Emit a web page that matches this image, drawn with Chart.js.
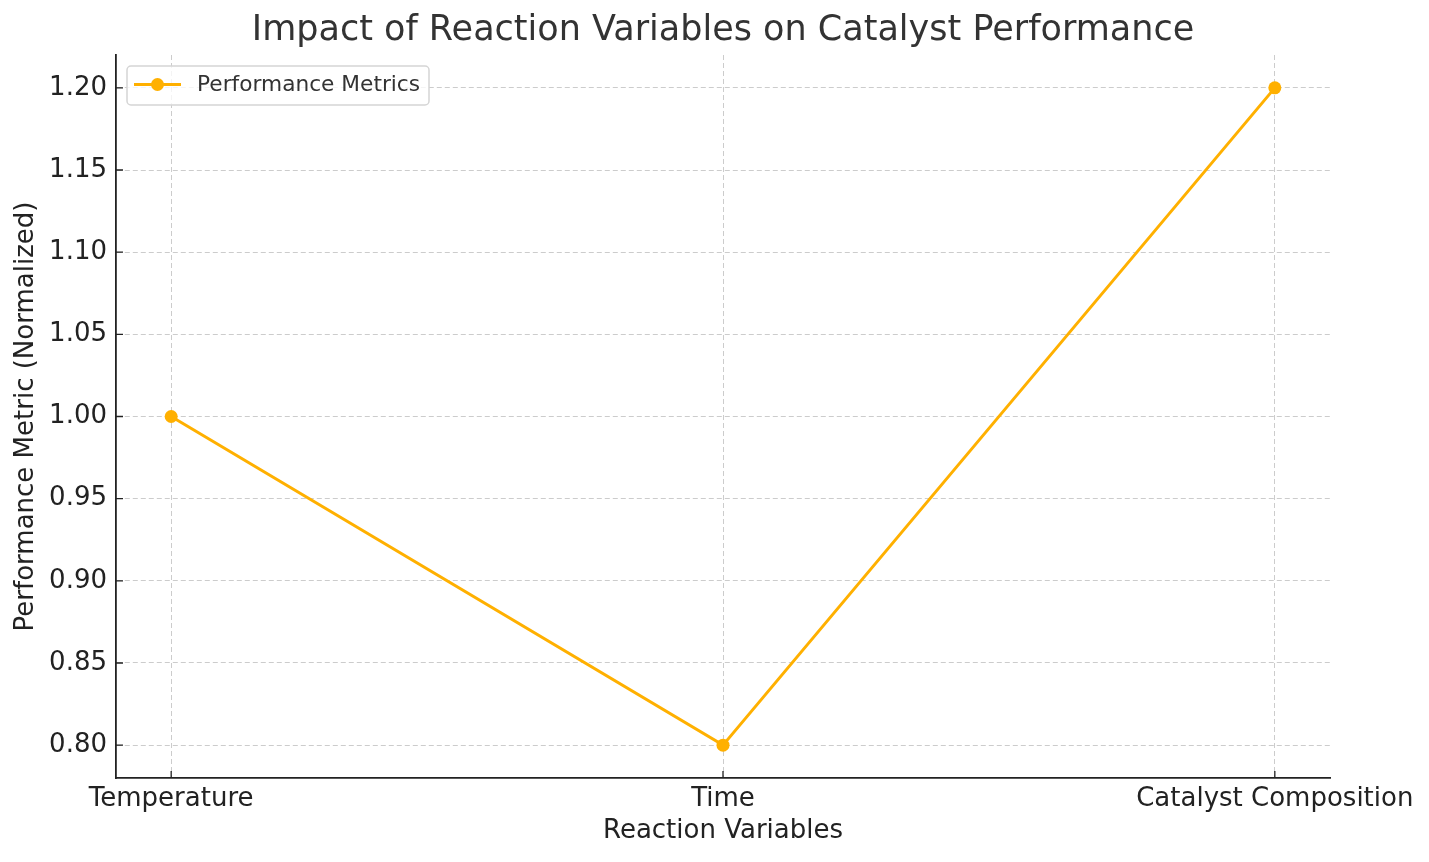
<!DOCTYPE html>
<html lang="en">
<head>
    <meta charset="UTF-8">
    <title>Impact of Reaction Variables on Catalyst Performance</title>
    <script src="https://cdn.jsdelivr.net/npm/chart.js"></script>
    <style>
        html, body { margin: 0; padding: 0; background: #fff; }
        #wrap { width: 1429px; height: 862px; }
    </style>
</head>
<body>
    <div id="wrap"><canvas id="chartCatalyst"></canvas></div>

    <script>
        // Data
        const categories = ['Temperature', 'Time', 'Catalyst Composition'];
        const performanceValues = [1.00, 0.80, 1.20];
        const seriesLabel = 'Performance Metrics';
        const chartTitle = 'Impact of Reaction Variables on Catalyst Performance';
        const lineColor = '#FFB000';
        const fontFamily = '"DejaVu Sans", Verdana, sans-serif';

        // inward tick marks like matplotlib
        const tickMarks = {
            id: 'tickMarks',
            afterDatasetsDraw(chart) {
                const { ctx, chartArea, scales } = chart;
                ctx.save();
                ctx.strokeStyle = '#222';
                ctx.lineWidth = 1.3;
                ctx.beginPath();
                scales.x.ticks.forEach(t => {
                    const px = scales.x.getPixelForValue(t.value);
                    ctx.moveTo(px, chartArea.bottom);
                    ctx.lineTo(px, chartArea.bottom - 7);
                });
                scales.y.ticks.forEach(t => {
                    const py = scales.y.getPixelForValue(t.value);
                    ctx.moveTo(chartArea.left, py);
                    ctx.lineTo(chartArea.left + 7, py);
                });
                ctx.stroke();
                ctx.restore();
            }
        };

        // title centred over the plot, legend box in its top left corner
        const titleAndLegend = {
            id: 'titleAndLegend',
            afterDraw(chart) {
                const { ctx, chartArea } = chart;
                ctx.save();
                ctx.fillStyle = '#333';
                ctx.font = '35px ' + fontFamily;
                ctx.textAlign = 'center';
                ctx.textBaseline = 'middle';
                ctx.fillText(chartTitle, (chartArea.left + chartArea.right) / 2, 31);

                const x = 127, y = 66, w = 302, h = 39;
                ctx.fillStyle = 'rgba(255,255,255,0.8)';
                ctx.strokeStyle = '#d5d5d5';
                ctx.lineWidth = 1.5;
                ctx.beginPath();
                ctx.roundRect(x, y, w, h, 4);
                ctx.fill();
                ctx.stroke();
                ctx.strokeStyle = lineColor;
                ctx.lineWidth = 3;
                ctx.beginPath();
                ctx.moveTo(134, 84.5);
                ctx.lineTo(181, 84.5);
                ctx.stroke();
                ctx.fillStyle = lineColor;
                ctx.beginPath();
                ctx.arc(157.5, 84.5, 6.5, 0, Math.PI * 2);
                ctx.fill();
                ctx.fillStyle = '#333';
                ctx.font = '21.7px ' + fontFamily;
                ctx.textAlign = 'left';
                ctx.fillText(seriesLabel, 197, 85.5);
                ctx.restore();
            }
        };

        const ctx = document.getElementById('chartCatalyst').getContext('2d');
        const chart = new Chart(ctx, {
            type: 'line',
            data: {
                datasets: [{
                    label: seriesLabel,
                    data: performanceValues.map((v, i) => ({ x: i, y: v })),
                    borderColor: lineColor,
                    backgroundColor: lineColor,
                    borderWidth: 3,
                    pointRadius: 6.5,
                    pointHoverRadius: 6.5,
                    pointBorderWidth: 0,
                    tension: 0
                }]
            },
            options: {
                responsive: true,
                maintainAspectRatio: false,
                animation: false,
                layout: { padding: { left: 0, right: 99, top: 55, bottom: 0 } },
                plugins: {
                    legend: { display: false },
                    tooltip: { enabled: false },
                    title: { display: false }
                },
                scales: {
                    x: {
                        type: 'linear',
                        min: -0.1,
                        max: 2.1,
                        afterFit: s => { s.height = 84; },
                        ticks: {
                            stepSize: 1,
                            includeBounds: false,
                            color: '#222',
                            padding: 6,
                            maxRotation: 0,
                            font: { family: fontFamily, size: 26 },
                            callback: v => categories[v] ?? ''
                        },
                        grid: { color: 'rgba(170,170,170,0.6)', lineWidth: 1, drawTicks: false },
                        border: { display: true, color: '#222', width: 1.8, dash: [5, 3] },
                        title: {
                            display: true,
                            text: 'Reaction Variables',
                            color: '#222',
                            font: { family: fontFamily, size: 26 },
                            padding: { top: 0, bottom: 15 }
                        }
                    },
                    y: {
                        min: 0.78,
                        max: 1.22,
                        afterFit: s => { s.width = 116; },
                        ticks: {
                            stepSize: 0.05,
                            includeBounds: false,
                            color: '#222',
                            padding: 9,
                            font: { family: fontFamily, size: 26 },
                            callback: v => v.toFixed(2)
                        },
                        grid: { color: 'rgba(170,170,170,0.6)', lineWidth: 1, drawTicks: false },
                        border: { display: true, color: '#222', width: 1.8, dash: [5, 3] },
                        title: {
                            display: true,
                            text: 'Performance Metric (Normalized)',
                            color: '#222',
                            font: { family: fontFamily, size: 26 },
                            padding: { top: 11, bottom: 0 }
                        }
                    }
                }
            },
            plugins: [tickMarks, titleAndLegend]
        });
    </script>
</body>
</html>
